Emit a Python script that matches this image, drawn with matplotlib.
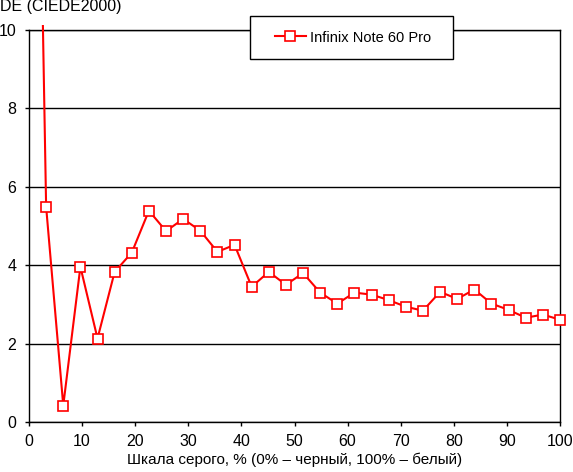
import matplotlib
matplotlib.use("Agg")
import matplotlib.pyplot as plt
from matplotlib.patches import Rectangle
from matplotlib.transforms import Bbox, TransformedBbox
import numpy as np

plt.rcParams['font.family'] = ['Liberation Sans', 'DejaVu Sans']

# grey level, % (32 steps) and DE values
gray_pct = [i * 100 / 31 for i in range(32)]
de_values = [30.0, 5.49, 0.42, 3.96, 2.13, 3.83, 4.32, 5.39, 4.87, 5.18, 4.88,
             4.34, 4.52, 3.45, 3.83, 3.50, 3.80, 3.30, 3.02, 3.30, 3.25,
             3.11, 2.94, 2.84, 3.32, 3.14, 3.38, 3.02, 2.86, 2.66, 2.74, 2.61]
series_name = 'Infinix Note 60 Pro'
x_ticks = list(range(0, 101, 10))
y_ticks = list(range(0, 11, 2))

red = '#ff0000'
W, H = 573, 472

fig = plt.figure(figsize=(W / 100, H / 100), dpi=100)
ax = fig.add_axes([29 / W, 50 / H, 531 / W, 392 / H])

line, = ax.plot(gray_pct, de_values, color=red, lw=1.5, zorder=3)
# the line pokes a few pixels above the top of the plot in the original
line.set_clip_box(TransformedBbox(Bbox([[0, 0], [1, 1.013]]), ax.transAxes))

xs = np.array(gray_pct)
ys = np.array(de_values)
vis = ys <= 10
ax.plot(xs[vis], ys[vis], ls='none', marker='s', ms=7.5, mfc='white', mec=red,
        mew=1.2, clip_on=False, zorder=4)

ax.set_xlim(0, 100)
ax.set_ylim(0, 10)
ax.set_xticks(x_ticks)
ax.set_yticks(y_ticks)
ax.yaxis.grid(True, color='black', lw=1)
ax.set_axisbelow(True)
for s in ax.spines.values():
    s.set_color('black')
    s.set_linewidth(1)
ax.tick_params(direction='out', length=3.2, width=1, labelsize=11.5, colors='black')
ax.tick_params(axis='x', pad=5.5)
ax.tick_params(axis='y', pad=6)

ax.set_xlabel('Шкала серого, % (0% – черный, 100% – белый)', fontsize=11, labelpad=2.5)
fig.text(0, H - 6, 'DE (CIEDE2000)', fontsize=11.5, ha='left', va='center',
         transform=None)

# legend box (white, black border) sitting over the top grid line
ax.add_patch(Rectangle((250 / W, 1 - 59 / H), 203 / W, 43 / H, transform=fig.transFigure,
                       facecolor='white', edgecolor='black', lw=1, zorder=5, clip_on=False))
h, = ax.plot([], [], color=red, lw=1.5, marker='s', ms=7.5, mfc='white', mec=red, mew=1.2)
leg = ax.legend([h], [series_name], loc='center', bbox_to_anchor=(353 / W, 1 - 37.5 / H),
                bbox_transform=fig.transFigure, fontsize=10.5, frameon=False,
                borderpad=0, handlelength=2.1, handletextpad=0.3, borderaxespad=0)
leg.set_zorder(6)

fig.savefig('out.png', dpi=100)
